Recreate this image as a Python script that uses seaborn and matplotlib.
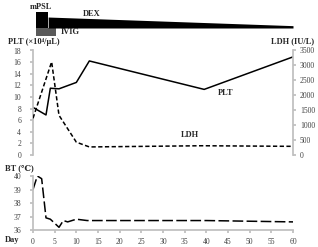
import numpy as np
import pandas as pd
import matplotlib
matplotlib.use("Agg")
import matplotlib.pyplot as plt
import seaborn as sns

# data
plt_day = [0, 3, 4, 6, 10, 13, 39.5, 60]
plt_val = [8.2, 6.9, 11.5, 11.4, 12.5, 16.2, 11.3, 16.9]

ldh_day = [0, 4.3, 6, 10, 13, 39, 60]
ldh_val = [1230, 3120, 1330, 430, 270, 310, 290]

bt_day = [0, 1, 2, 3, 4, 6, 7, 8, 10, 12.5, 40, 60]
bt_val = [39.0, 40.0, 39.8, 36.9, 36.8, 36.2, 36.7, 36.6, 36.8, 36.7, 36.7, 36.6]

mpsl_days = [0.7, 3.5]
ivig_days = [0.7, 5.3]
dex_days = [3.5, 60]
dex_thick = [0.74, 0.42]   # relative height of the tapering DEX bar

day_ticks = list(range(0, 61, 5))

sns.set_theme(style="white")
plt.rcParams['font.family'] = ['Liberation Serif', 'DejaVu Serif']
plt.rcParams['font.size'] = 6

grey = '#bfbfbf'
tick_col = '#404040'
tick_fs = 5.5

fig = plt.figure(figsize=(3.18, 2.47), dpi=100)
W, H = 318, 247


def box(x0, y0, x1, y1):
    return [x0 / W, 1 - y1 / H, (x1 - x0) / W, (y1 - y0) / H]


# ---- treatment bar ----
ax_t = fig.add_axes(box(33, 10, 293, 37))
ax_t.set_xlim(0, 60)
ax_t.set_ylim(0, 1)
ax_t.axis('off')
ax_t.fill_between(ivig_days, 0.04, 0.333, color='#5a5a5a', lw=0)
ax_t.fill_between(mpsl_days, 0.333, 0.93, color='black', lw=0)
ax_t.fill_between(dex_days, 0.333, dex_thick, color='black', lw=0)
ax_t.text(-0.8, 1.1, 'mPSL', fontsize=6, fontweight='bold', va='center', ha='left')
ax_t.text(11.5, 0.85, 'DEX', fontsize=6, fontweight='bold', va='center', ha='left')
ax_t.text(6.3, 0.18, 'IVIG', fontsize=6, fontweight='bold', va='center', ha='left')

# ---- PLT / LDH ----
ax1 = fig.add_axes(box(33, 50.5, 293, 155))
df_plt = pd.DataFrame({'day': plt_day, 'val': plt_val})
sns.lineplot(data=df_plt, x='day', y='val', ax=ax1, color='black', lw=1.1)
ax1.set_xlim(0, 60)
ax1.set_ylim(0, 18)
ax1.set_yticks(range(0, 19, 2))
ax1.set_xticks([])
ax1.set_xlabel('')
ax1.set_ylabel('')

ax2 = ax1.twinx()
df_ldh = pd.DataFrame({'day': ldh_day, 'val': ldh_val})
sns.lineplot(data=df_ldh, x='day', y='val', ax=ax2, color='black', lw=1.1)
ax2.lines[0].set_dashes((2.8, 1.6))
ax2.set_ylim(0, 3500)
ax2.set_yticks(range(0, 3501, 500))
ax2.set_ylabel('')

for a in (ax1, ax2):
    for s in a.spines.values():
        s.set_visible(False)
ax1.spines['left'].set_visible(True)
ax1.spines['left'].set_color(grey)
ax2.spines['right'].set_visible(True)
ax2.spines['right'].set_color(grey)
ax1.tick_params(axis='y', left=True, length=2.5, color=grey, labelcolor=tick_col,
                labelsize=tick_fs, pad=6)
ax2.tick_params(axis='y', right=True, length=2, color=grey, labelcolor=tick_col,
                labelsize=tick_fs, pad=3)

fig.text(8 / W, 1 - 41.5 / H, 'PLT (×10⁴/μL)', fontsize=6, fontweight='bold',
         va='center', ha='left')
fig.text(314 / W, 1 - 41.5 / H, 'LDH (IU/L)', fontsize=6, fontweight='bold',
         va='center', ha='right')
fig.text(226 / W, 1 - 93 / H, 'PLT', fontsize=6, fontweight='bold', va='center', ha='center')
fig.text(190 / W, 1 - 135 / H, 'LDH', fontsize=6, fontweight='bold', va='center', ha='center')

# ---- body temperature ----
ax3 = fig.add_axes(box(33, 176, 293, 230))
df_bt = pd.DataFrame({'day': bt_day, 'val': bt_val})
sns.lineplot(data=df_bt, x='day', y='val', ax=ax3, color='black', lw=1.1)
ax3.lines[0].set_dashes((7, 2.2))
ax3.set_xlim(0, 60)
ax3.set_ylim(36, 40)
ax3.set_yticks([36, 37, 38, 39, 40])
ax3.set_xticks(day_ticks)
ax3.set_xlabel('')
ax3.set_ylabel('')
for s in ('top', 'right'):
    ax3.spines[s].set_visible(False)
for s in ('left', 'bottom'):
    ax3.spines[s].set_color(grey)
ax3.tick_params(axis='y', left=True, length=2.5, color=grey, labelcolor=tick_col,
                labelsize=tick_fs, pad=6)
ax3.tick_params(axis='x', bottom=True, length=2.5, color=grey, labelcolor=tick_col,
                labelsize=tick_fs, pad=3.5)

fig.text(5 / W, 1 - 168 / H, 'BT (℃)', fontsize=6, fontweight='bold', va='center', ha='left',
         family=['Liberation Serif', 'DejaVu Serif', 'Noto Sans CJK JP'])
fig.text(5 / W, 1 - 240 / H, 'Day', fontsize=6, fontweight='bold', va='center', ha='left')

fig.savefig('out.png', dpi=100)
